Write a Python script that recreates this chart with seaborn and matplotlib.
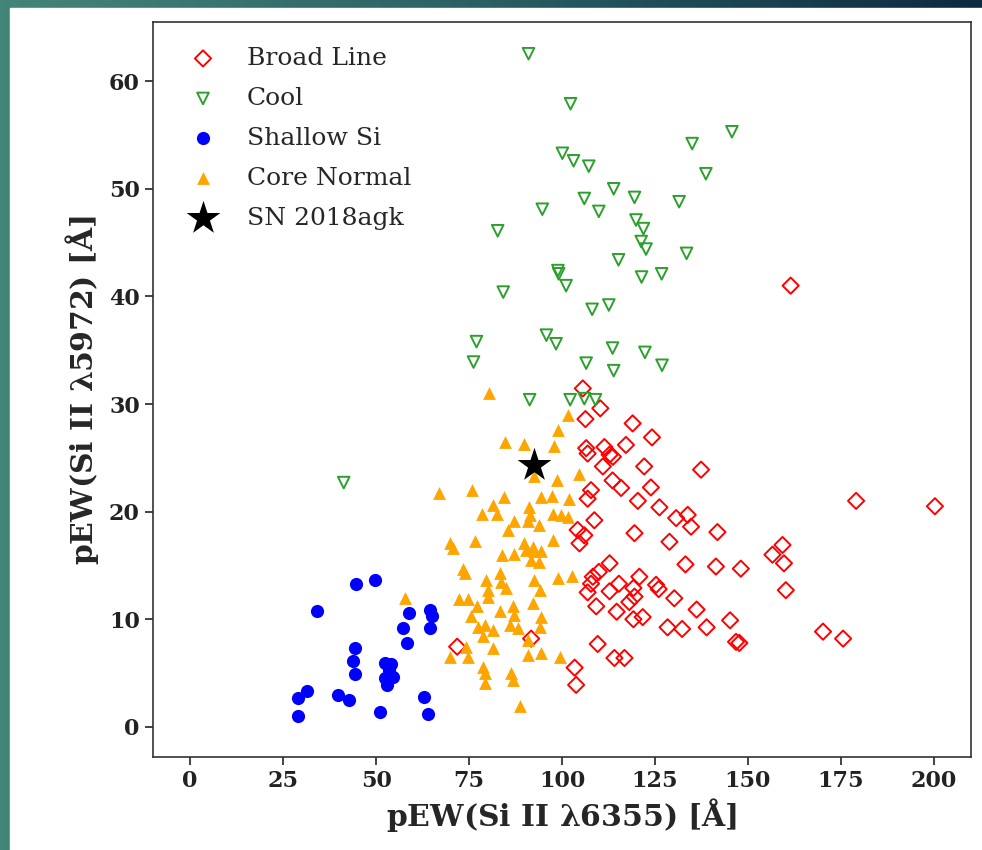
import numpy as np
import pandas as pd
import seaborn as sns
import matplotlib.pyplot as plt
from matplotlib.colors import LinearSegmentedColormap
from matplotlib.patches import Rectangle

# pEW values (x = Si II 6355, y = Si II 5972)
broad_x = [105.6, 110.3, 106.3, 119.0, 124.2, 117.2, 106.5, 106.9, 111.4, 112.8, 113.7, 111.0,
           122.1, 137.4, 113.6, 115.9, 123.9, 107.8, 106.9, 120.4, 126.2, 130.7, 133.8, 134.7,
           141.8, 108.7, 119.5, 128.9, 104.2, 106.0, 104.7,
           161.5, 179.1, 200.3, 159.3, 156.6, 159.7, 160.2, 148.1, 170.2, 175.6,
           112.8, 133.2, 141.4, 109.9, 108.3, 107.8, 106.9, 120.8, 115.3, 112.8, 119.2, 125.3,
           126.0, 109.2, 114.7, 118.1, 119.5, 119.2, 121.7, 130.2, 136.2, 145.2, 128.4, 132.3,
           138.9, 146.8, 147.7, 109.6, 114.1, 116.8, 103.4, 103.8, 71.8, 91.7]
broad_y = [31.45, 29.6, 28.6, 28.2, 26.9, 26.2, 25.9, 25.4, 26.0, 25.3, 25.1, 24.2,
           24.2, 23.9, 22.9, 22.2, 22.25, 22.0, 21.2, 21.0, 20.4, 19.4, 19.7, 18.6,
           18.1, 19.2, 18.0, 17.2, 18.3, 17.8, 17.05,
           41.0, 21.0, 20.5, 16.9, 16.0, 15.2, 12.7, 14.7, 8.85, 8.2,
           15.2, 15.1, 14.9, 14.4, 13.95, 13.3, 12.5, 13.95, 13.3, 12.6, 12.9, 13.2,
           12.8, 11.2, 10.7, 11.6, 12.1, 10.0, 10.2, 11.95, 10.9, 9.9, 9.25, 9.1,
           9.25, 7.9, 7.8, 7.7, 6.4, 6.4, 5.5, 3.9, 7.45, 8.2]

cool_x = [91.0, 102.3, 145.7, 135.0, 100.1, 103.1, 107.2, 138.7, 113.9, 119.5, 106.0, 131.5,
          109.9, 94.7, 119.9, 121.9, 82.7, 121.3, 122.6, 133.5, 115.2, 98.9, 99.1, 101.1,
          121.4, 126.8, 84.2, 112.6, 108.1, 95.8, 98.4, 77.0, 76.2, 113.6, 122.3, 106.5,
          113.9, 126.9, 91.3, 102.2, 106.0, 109.0, 41.3]
cool_y = [62.55, 57.9, 55.3, 54.2, 53.3, 52.6, 52.1, 51.4, 50.0, 49.2, 49.1, 48.8,
          47.9, 48.1, 47.1, 46.3, 46.1, 45.1, 44.4, 44.0, 43.4, 42.4, 42.1, 41.0,
          41.8, 42.1, 40.4, 39.2, 38.8, 36.4, 35.6, 35.8, 33.9, 35.2, 34.8, 33.8,
          33.1, 33.6, 30.4, 30.4, 30.5, 30.4, 22.7]

shallow_x = [44.7, 49.8, 34.2, 58.9, 64.6, 65.1, 57.3, 64.6, 58.3, 44.3, 43.8, 52.3, 53.5,
             44.3, 52.3, 53.0, 54.5, 31.3, 28.9, 39.8, 42.7, 62.8, 28.9, 51.0, 64.0, 54.0]
shallow_y = [13.3, 13.65, 10.8, 10.55, 10.9, 10.3, 9.2, 9.2, 7.8, 7.3, 6.1, 5.9, 5.3,
             4.9, 4.5, 3.9, 4.6, 3.3, 2.7, 3.0, 2.5, 2.8, 1.05, 1.4, 1.2, 5.8]

core_x = [80.3, 101.7, 98.9, 84.8, 89.9, 97.8, 92.6, 98.6, 104.5, 66.8, 75.9, 84.3, 94.4,
          97.3, 101.8, 81.4, 78.6, 82.5, 91.1, 91.3, 97.5, 99.8, 101.6, 87.2, 90.8, 93.8,
          85.5, 69.8, 76.5, 89.9, 97.7, 92.2, 70.6, 83.9, 87.2, 90.4, 92.6, 94.4, 91.7,
          93.8, 73.4, 73.8, 79.6, 83.2, 83.7, 85.0, 80.1, 80.1, 92.6, 94.0, 98.9, 102.7,
          57.7, 72.3, 74.7, 77.1, 75.6, 83.2, 86.8, 87.2, 92.2, 94.4, 77.4, 79.2, 81.4,
          85.9, 88.1, 94.0, 78.7, 81.4, 74.3, 74.7, 69.8, 90.8, 90.8, 94.4, 99.5, 78.7,
          79.2, 79.2, 86.4, 86.8, 88.8]
core_y = [31.0, 29.0, 27.6, 26.5, 26.3, 26.1, 23.3, 22.9, 23.5, 21.75, 22.0, 21.4, 21.4,
          21.45, 21.2, 20.6, 19.8, 19.8, 20.45, 19.7, 19.8, 19.7, 19.5, 19.1, 19.1, 18.75,
          18.3, 17.05, 17.3, 17.05, 17.4, 16.7, 16.6, 16.0, 16.1, 16.4, 16.3, 16.3, 15.5,
          15.35, 14.7, 14.3, 13.65, 14.3, 13.5, 12.9, 12.7, 12.1, 13.65, 12.7, 13.8, 14.0,
          12.0, 11.85, 11.85, 11.2, 10.3, 10.8, 11.2, 10.4, 11.5, 10.2, 9.3, 9.5, 9.0,
          9.5, 9.2, 9.25, 8.4, 7.3, 7.45, 6.5, 6.5, 8.1, 6.7, 6.85, 6.5, 5.6,
          5.0, 4.05, 5.0, 4.4, 1.9]

sn_x = [92.6]
sn_y = [24.3]

x_ticks = [0, 25, 50, 75, 100, 125, 150, 175, 200]
y_ticks = [0, 10, 20, 30, 40, 50, 60]

sns.set_style("ticks")
plt.rcParams['font.family'] = ['DejaVu Serif']
plt.rcParams['mathtext.fontset'] = 'dejavuserif'

fig = plt.figure(figsize=(9.82, 8.5), dpi=100, facecolor='white')
ax = fig.add_axes([153 / 982, 93 / 850, 818 / 982, 735 / 850], zorder=2)

# slide-style frame behind the plot
bg = fig.add_axes([0, 0, 1, 1], zorder=-5)
bg.axis('off')
cmap = LinearSegmentedColormap.from_list('frame', ['#44857a', '#2a5f63', '#0d2a40'])
bg.imshow(np.linspace(0, 1, 256)[None, :], aspect='auto', cmap=cmap, extent=[0, 1, 0, 1])
bg.add_patch(Rectangle((10 / 982, 0), 1, 842 / 850, color='white', transform=bg.transAxes))
bg.set_xlim(0, 1)
bg.set_ylim(0, 1)

groups = [
    (broad_x, broad_y, dict(marker='D', s=68, facecolor='none', edgecolor='red', linewidth=1.4), 'Broad Line'),
    (cool_x, cool_y, dict(marker='v', s=70, facecolor='none', edgecolor='#2ca02c', linewidth=1.4), 'Cool'),
    (shallow_x, shallow_y, dict(marker='o', s=90, color='blue', edgecolor='blue', linewidth=0), 'Shallow Si'),
    (core_x, core_y, dict(marker='^', s=85, color='orange', edgecolor='orange', linewidth=0), 'Core Normal'),
    (sn_x, sn_y, dict(marker='*', s=650, color='black', edgecolor='black', linewidth=0), 'SN 2018agk'),
]
for gx, gy, kw, lab in groups:
    df = pd.DataFrame({'x': gx, 'y': gy})
    sns.scatterplot(data=df, x='x', y='y', ax=ax, label=lab, **kw)

ax.set_xlim(-10, 210)
ax.set_ylim(-2.8, 65.5)
ax.set_xticks(x_ticks)
ax.set_yticks(y_ticks)

ax.set_xlabel(r'pEW(Si II $\mathbf{\lambda}$6355) [$\mathbf{\AA}$]', fontsize=21.5, fontweight='bold', labelpad=3)
ax.set_ylabel(r'pEW(Si II $\mathbf{\lambda}$5972) [$\mathbf{\AA}$]', fontsize=21.5, fontweight='bold', labelpad=6)
ax.tick_params(axis='both', direction='out', length=6, width=1.2, colors='#222222', labelsize=16)
for t in ax.get_xticklabels() + ax.get_yticklabels():
    t.set_fontweight('bold')
for sp in ax.spines.values():
    sp.set_visible(True)
    sp.set_color('#333333')
    sp.set_linewidth(1.2)

ax.legend(loc='upper left', frameon=False, prop=dict(family='DejaVu Serif', size=18),
          labelspacing=0.68, handletextpad=0.75, borderaxespad=0.6, scatterpoints=1)

fig.savefig('out.png', dpi=100, facecolor=fig.get_facecolor())
